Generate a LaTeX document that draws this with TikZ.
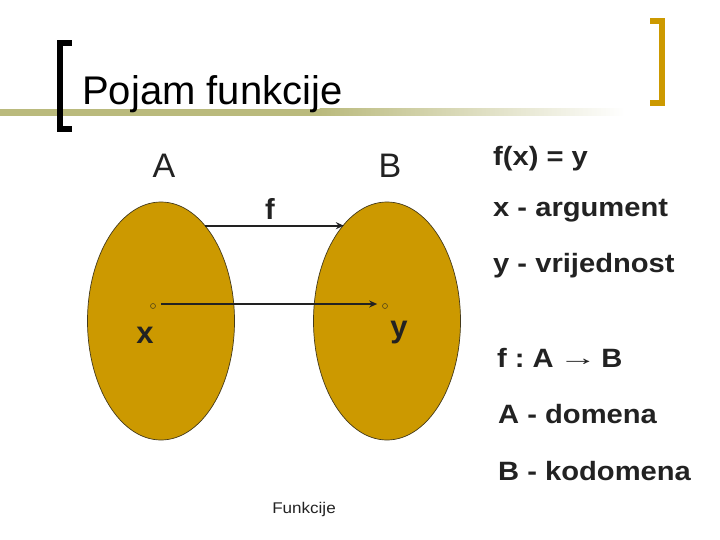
\documentclass[tikz,border=0pt]{standalone}
\usepackage{fontspec}
\setmainfont{Liberation Sans}
\newfontfamily\rtfont[FakeStretch=1.1]{Liberation Sans}
\usetikzlibrary{shapes.geometric,arrows.meta}
\definecolor{gold}{RGB}{204,153,0}
\definecolor{olivebar}{RGB}{186,186,125}
\definecolor{inkc}{RGB}{34,34,34}
\tikzset{
  setell/.style={ellipse, draw=inkc!80!gold, line width=0.7pt, fill=gold, minimum width=147pt, minimum height=238pt, inner sep=0pt},
  dotpt/.style={circle, draw=inkc!70!gold, line width=0.6pt, minimum size=5pt, inner sep=0pt},
  maparrow/.style={draw=inkc, line width=2pt, -{Stealth[length=8pt,width=7pt]}},
  righttext/.style={anchor=base west, inner sep=0pt, font=\fontsize{26.5}{30}\rtfont\bfseries, text=inkc},
  setlabel/.style={anchor=base, inner sep=0pt, font=\fontsize{34}{38}\selectfont, text=inkc},
  elemlabel/.style={anchor=base, inner sep=0pt, font=\fontsize{31}{36}\selectfont\bfseries, text=inkc}
}
\begin{document}
\begin{tikzpicture}[x=1pt,y=-1pt]
\useasboundingbox (0,0) rectangle (720,540);
% title bar
\fill[olivebar] (0,109) rectangle (320,116);
\shade[left color=olivebar, right color=white] (319.5,109) rectangle (625,116);
% left black bracket
\fill[black] (57,40) rectangle (63,132);
\fill[black] (57,40) rectangle (72,46);
\fill[black] (57,126) rectangle (72,132);
% right gold bracket
\fill[gold] (659,18) rectangle (665,106);
\fill[gold] (650,18) rectangle (665,24);
\fill[gold] (650,100) rectangle (665,106);
% title
\node[anchor=base west, inner sep=0pt, font=\fontsize{40}{46}\selectfont] (title) at (82,105) {Pojam funkcije};
% sets
\node[setell] (eA) at (161,321) {};
\node[setell] (eB) at (387,321) {};
\node[setlabel] (lA) at (164,178) {A};
\node[setlabel] (lB) at (390,178) {B};
\draw[maparrow] (eA.65.4) -- (eA.65.4 -| eB.114.6);
\node[elemlabel, font=\fontsize{29}{33}\selectfont\bfseries] (lf) at (270,220) {f};
% elements
\node[dotpt] (px) at (153,306) {};
\node[dotpt] (py) at (385,306) {};
\draw[maparrow] ([xshift=5pt,yshift=2pt]px.east) -- ([xshift=-5pt,yshift=2pt]py.west);
\node[elemlabel] (lx) at (145,343) {x};
\node[elemlabel] (ly) at (399,337) {y};
% right texts
\node[righttext] (t1) at (493,166) {f(x) = y};
\node[righttext] (t2) at (493,217) {x - argument};
\node[righttext] (t3) at (493,272) {y - vrijednost};
\node[righttext] (t4) at (497,367) {f\hspace{8pt}:\hspace{8pt}A\hspace{5pt}\raisebox{0.12ex}{\scalebox{1.6}[1]{\fontsize{22}{24}\selectfont\mdseries →}}\hspace{4pt}B};
\node[righttext] (t5) at (498,423) {A - domena};
\node[righttext] (t6) at (498,480) {B - kodomena};
% footer
\node[anchor=base, inner sep=0pt, font=\fontsize{15.5}{17}\rtfont, text=inkc] (foot) at (304,513) {Funkcije};
\end{tikzpicture}
\end{document}
